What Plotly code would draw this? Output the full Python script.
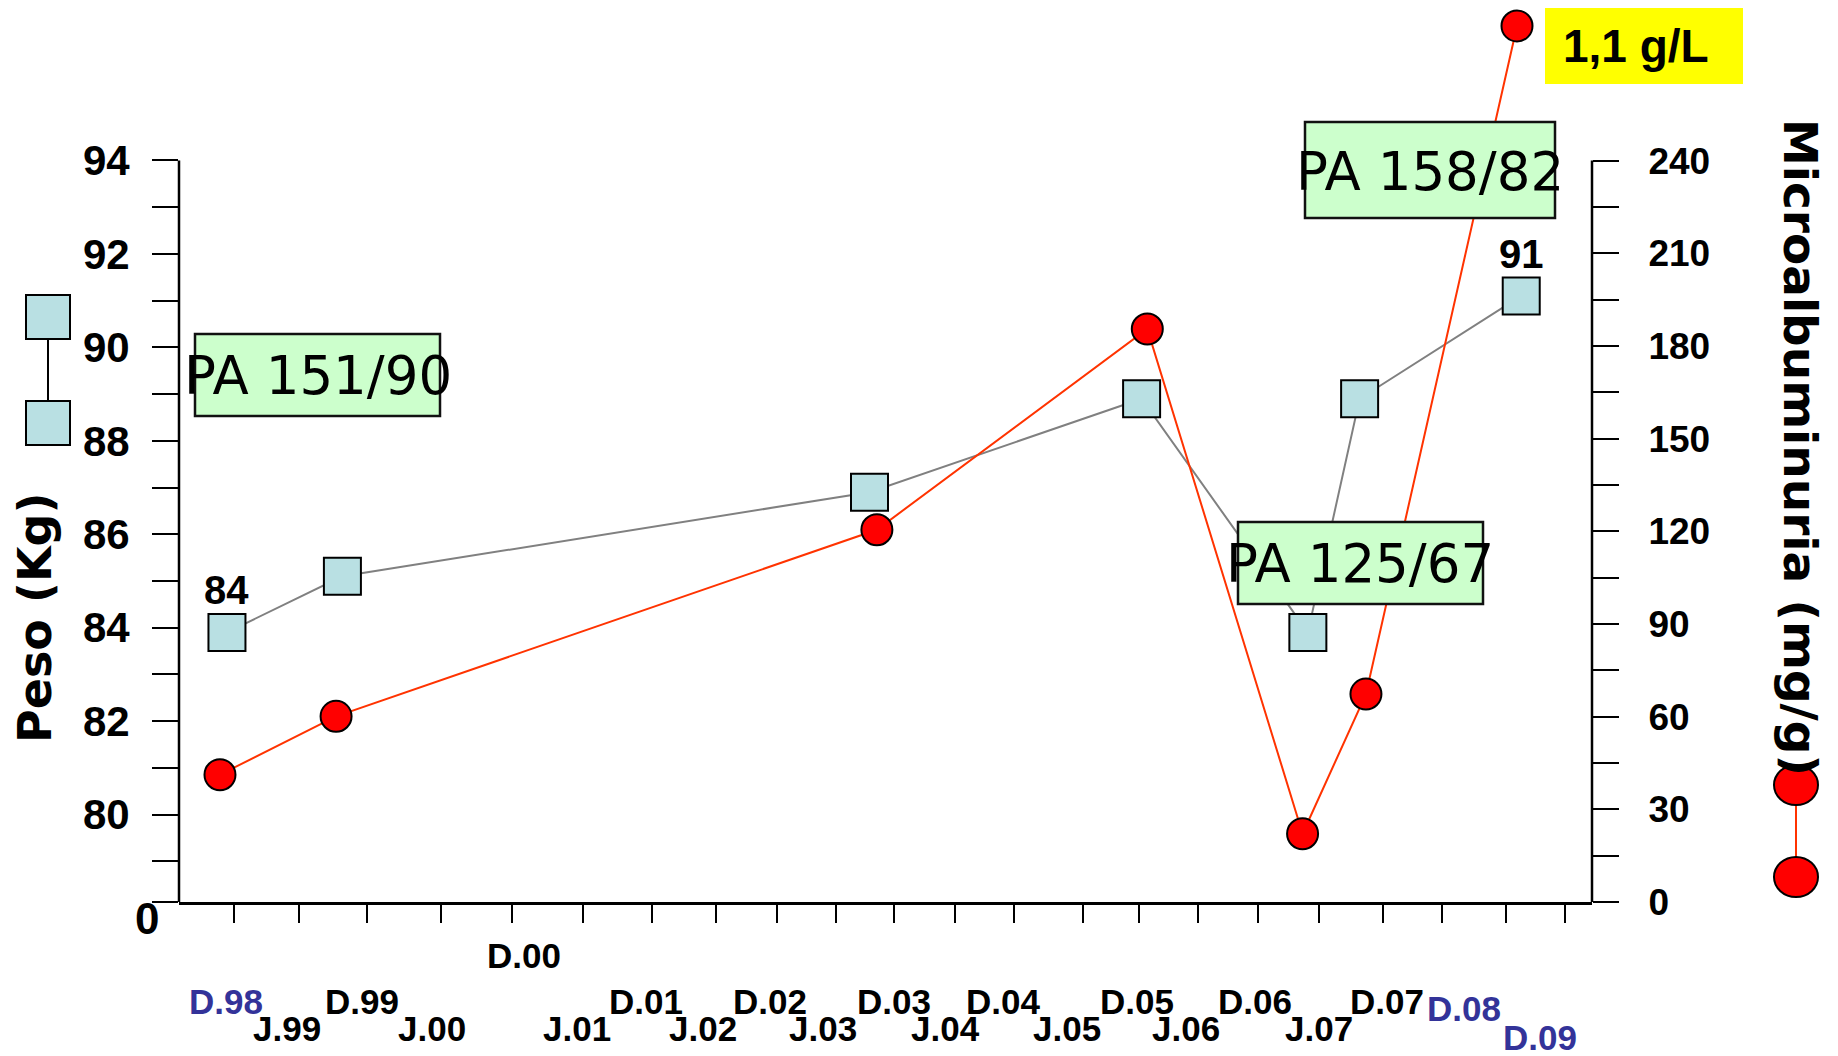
import plotly.graph_objects as go

# ---------------- data (x in months since Dec 1998) ----------------
peso_x = [-0.63, 10.3, 60.2, 85.96, 101.7, 106.6, 121.9]
peso = [83.9, 85.1, 86.9, 88.9, 83.9, 88.9, 91.1]
peso_labels = ["84", "", "", "", "", "", "91"]

micro_x = [-1.29, 9.7, 60.9, 86.5, 101.2, 107.2, 121.5]
micro = [41.2, 60.1, 120.5, 185.5, 22.1, 67.3, 283.6]

x_ticks = [0, 6.16, 12.6, 19.6, 26.4, 33.1, 39.6, 45.7, 51.4, 57.0, 62.5,
           68.3, 73.9, 80.4, 85.7, 91.3, 97.0, 102.8, 108.8, 114.4, 120.5, 126.0]

date_labels = ["D.98", "J.99", "D.99", "J.00", "D.00", "J.01", "D.01", "J.02",
               "D.02", "J.03", "D.03", "J.04", "D.04", "J.05", "D.05", "J.06",
               "D.06", "J.07", "D.07", "D.08", "D.09"]
date_label_x = [-0.76, 5.1, 12.2, 18.8, 27.5, 32.5, 39.0, 44.4, 50.8, 55.8,
                62.5, 67.4, 72.8, 78.9, 85.5, 90.2, 96.7, 102.8, 109.2, 116.5, 123.7]

peso_ticks = list(range(79, 95))
peso_tick_text = [str(v) if v % 2 == 0 else "" for v in peso_ticks]
micro_ticks = list(range(0, 241, 15))
micro_tick_text = [str(v) if v % 30 == 0 else "" for v in micro_ticks]

pa_texts = ["PA 151/90", "PA 125/67", "PA 158/82"]
proteinuria_text = "1,1 g/L"

# ---------------- layout geometry ----------------
W, H = 1838, 1056
L, R, T, B = 179, 1592, 10, 902
X_RANGE = [-5.17, 128.6]
Y_RANGE = [78.13, 97.22]
Y2_RANGE = [0, 288.75]


def px(xp):
    return (xp - L) / (R - L)


def py(yp):
    return (B - yp) / (B - T)


BOLD = "Liberation Sans"
fig = go.Figure()

fig.add_trace(go.Scatter(
    x=peso_x, y=peso, mode="lines+markers",
    line=dict(color="#808080", width=2),
    marker=dict(symbol="square", size=37, color="#B9E0E3",
                line=dict(color="black", width=2)),
    cliponaxis=False, yaxis="y", name="Peso"))

fig.add_trace(go.Scatter(
    x=micro_x, y=micro, mode="lines+markers",
    line=dict(color="#FF3300", width=2),
    marker=dict(symbol="circle", size=31, color="#FF0000",
                line=dict(color="black", width=2)),
    cliponaxis=False, yaxis="y2", name="Microalbuminuria"))

shapes = []
# axis lines (left and right) limited to the scale part
shapes.append(dict(type="line", xref="paper", yref="y", x0=0, x1=0,
                   y0=Y_RANGE[0], y1=94, line=dict(color="black", width=2.5)))
shapes.append(dict(type="line", xref="paper", yref="y2", x0=1, x1=1,
                   y0=0, y1=240, line=dict(color="black", width=2.5)))

# PA boxes
pa_boxes = [(195, 334, 440, 416), (1238, 522, 1483, 604), (1305, 122, 1555, 218)]
pa_text_pos = [(318, 375), (1360, 563), (1430, 171)]
for (x0, y0, x1, y1) in pa_boxes:
    shapes.append(dict(type="rect", xref="paper", yref="paper",
                       x0=px(x0), x1=px(x1), y0=py(y1), y1=py(y0),
                       fillcolor="#CCFFCC", line=dict(color="#111111", width=2.5),
                       layer="above"))
# yellow box
shapes.append(dict(type="rect", xref="paper", yref="paper",
                   x0=px(1545), x1=px(1743), y0=py(84), y1=py(8),
                   fillcolor="#FFFF00", line=dict(width=0), layer="above"))

# legend icon: squares (left)
shapes.append(dict(type="line", xref="paper", yref="paper", x0=px(48), x1=px(48),
                   y0=py(339), y1=py(401), line=dict(color="black", width=2)))
for (y0, y1) in [(295, 339), (401, 445)]:
    shapes.append(dict(type="rect", xref="paper", yref="paper",
                       x0=px(26), x1=px(70), y0=py(y1), y1=py(y0),
                       fillcolor="#B9E0E3", line=dict(color="black", width=2)))
# legend icon: circles (right)
shapes.append(dict(type="line", xref="paper", yref="paper", x0=px(1796), x1=px(1796),
                   y0=py(785), y1=py(877), line=dict(color="#FF3300", width=2)))
for yc in [785, 877]:
    shapes.append(dict(type="circle", xref="paper", yref="paper",
                       x0=px(1774), x1=px(1818), y0=py(yc + 20), y1=py(yc - 20),
                       fillcolor="#FF0000", line=dict(color="black", width=2)))

annotations = []
# value labels above the weight markers
for xv, yv, lab in zip(peso_x, peso, peso_labels):
    if lab:
        annotations.append(dict(text=lab, xref="x", yref="y", x=xv, y=yv,
                                yshift=42, showarrow=False,
                                xanchor="center", yanchor="middle",
                                font=dict(family=BOLD, size=40, color="black", weight="bold")))
for t, (xc, yc) in zip(pa_texts, pa_text_pos):
    annotations.append(dict(text=t, xref="paper", yref="paper", x=px(xc), y=py(yc),
                            showarrow=False, xanchor="center", yanchor="middle",
                            font=dict(family="DejaVu Sans", size=53, color="black")))
annotations.append(dict(text=proteinuria_text, xref="paper", yref="paper",
                        x=px(1636), y=py(46), showarrow=False,
                        xanchor="center", yanchor="middle",
                        font=dict(family=BOLD, size=46, color="black", weight="bold")))
annotations.append(dict(text="Peso (Kg)", xref="paper", yref="paper",
                        x=px(35), y=py(618), showarrow=False, textangle=-90,
                        xanchor="center", yanchor="middle",
                        font=dict(family="DejaVu Sans", size=46, color="black", weight="bold")))
annotations.append(dict(text="Microalbuminuria (mg/g)", xref="paper", yref="paper",
                        x=px(1801), y=py(448), showarrow=False, textangle=90,
                        xanchor="center", yanchor="middle",
                        font=dict(family="DejaVu Sans", size=47, color="black", weight="bold")))
annotations.append(dict(text="0", xref="paper", yref="paper",
                        x=px(147), y=py(918), showarrow=False,
                        xanchor="center", yanchor="middle",
                        font=dict(family=BOLD, size=44, color="black", weight="bold")))

# date labels under the axis (staggered rows)
blue = {"D.98", "D.08", "D.09"}
row_y = {"D": 1001, "J": 1028}
special_y = {"D.00": 955, "D.08": 1008, "D.09": 1037}
for lab, xv in zip(date_labels, date_label_x):
    yv = special_y.get(lab, row_y[lab[0]])
    annotations.append(dict(text=lab, xref="x", yref="paper", x=xv, y=py(yv),
                            showarrow=False, xanchor="center", yanchor="middle",
                            font=dict(family=BOLD, size=35, weight="bold",
                                      color="#333399" if lab in blue else "black")))

fig.update_layout(
    width=W, height=H, autosize=False,
    margin=dict(l=L, r=W - R, t=T, b=H - B, pad=0),
    plot_bgcolor="white", paper_bgcolor="white", showlegend=False,
    shapes=shapes, annotations=annotations,
    xaxis=dict(range=X_RANGE, tickvals=x_ticks, showticklabels=False,
               ticks="outside", ticklen=18, tickwidth=2, tickcolor="black",
               showline=True, linecolor="black", linewidth=3,
               showgrid=False, zeroline=False),
    yaxis=dict(range=Y_RANGE, tickvals=[Y_RANGE[0]] + peso_ticks,
               ticktext=[""] + peso_tick_text,
               ticks="outside", ticklen=26, tickwidth=2, tickcolor="black",
               ticklabelstandoff=14,
               tickfont=dict(family=BOLD, size=42, color="black", weight="bold"),
               showline=False, showgrid=False, zeroline=False),
    yaxis2=dict(range=Y2_RANGE, overlaying="y", side="right",
                tickvals=micro_ticks, ticktext=micro_tick_text,
                ticks="outside", ticklen=26, tickwidth=2, tickcolor="black",
                ticklabelstandoff=22,
                tickfont=dict(family=BOLD, size=37, color="black", weight="bold"),
                showline=False, showgrid=False, zeroline=False),
)

fig.write_html("out.html", config={"displayModeBar": False},
               post_script="document.body.style.margin='0';")
